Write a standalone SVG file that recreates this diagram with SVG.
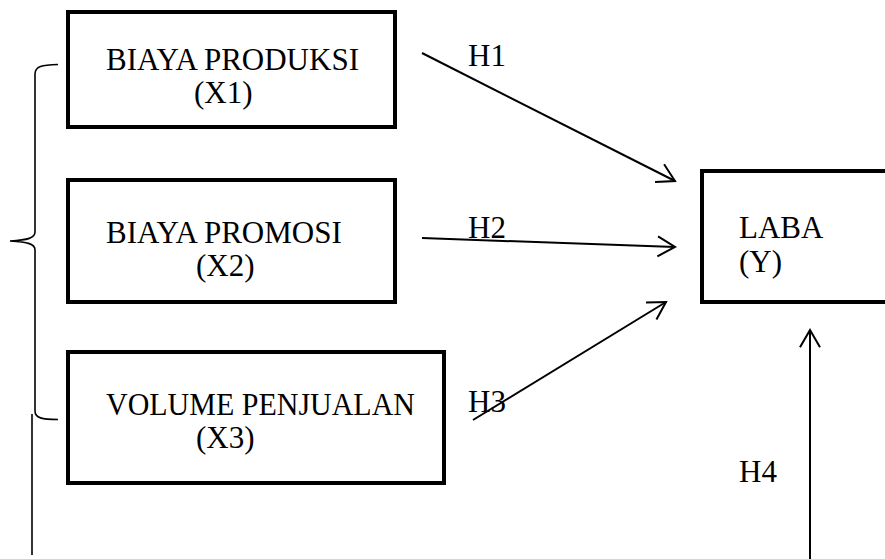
<svg xmlns="http://www.w3.org/2000/svg" width="885" height="559" viewBox="0 0 885 559">
<style>
.box{fill:#fff;stroke:#000;stroke-width:4}
.t{font-family:'Liberation Serif',serif;font-size:31px;fill:#000}
.conn{stroke:#000;stroke-width:2;fill:none}
.br{stroke:#000;stroke-width:1.6;fill:none}
</style>
<defs>
<marker id="arr" markerUnits="userSpaceOnUse" markerWidth="24" markerHeight="24" refX="20" refY="12" orient="auto" overflow="visible">
<path d="M2.7,2 L20,12 L2.7,22" fill="none" stroke="#000" stroke-width="2"/>
</marker>
</defs>
<rect width="885" height="559" fill="#fff"/>
<g id="x1">
<rect class="box" x="68" y="12" width="327" height="115"/>
<text class="t" x="106" y="70">BIAYA PRODUKSI</text>
<text class="t" x="194" y="103">(X1)</text>
</g>
<g id="x2">
<rect class="box" x="68" y="180" width="327" height="122"/>
<text class="t" x="106" y="243">BIAYA PROMOSI</text>
<text class="t" x="196" y="276">(X2)</text>
</g>
<g id="x3">
<rect class="box" x="68" y="352" width="376" height="131"/>
<text class="t" x="106" y="415" textLength="309" lengthAdjust="spacingAndGlyphs">VOLUME PENJUALAN</text>
<text class="t" x="196" y="448">(X3)</text>
</g>
<g id="y">
<rect class="box" x="702" y="171" width="200" height="131"/>
<text class="t" x="739" y="238">LABA</text>
<text class="t" x="739" y="272">(Y)</text>
</g>
<g id="brace">
<path class="br" d="M58,64.5 C42,65 35,66 35,74 L35,232 C35,238 28,240 10,241 C28,242 35,244 35,250 L35,411 C35,418 42,419.5 58,419.5"/>
<line class="br" x1="32" y1="414" x2="32" y2="555"/>
</g>
<g id="connectors">
<line class="conn" x1="422" y1="53" x2="675" y2="181" marker-end="url(#arr)"/>
<line class="conn" x1="422" y1="238" x2="675" y2="247" marker-end="url(#arr)"/>
<line class="conn" x1="473" y1="420" x2="666" y2="302" marker-end="url(#arr)"/>
<line class="conn" x1="810" y1="559" x2="810" y2="330" marker-end="url(#arr)"/>
<text class="t" x="468" y="66">H1</text>
<text class="t" x="468" y="238">H2</text>
<text class="t" x="468" y="412">H3</text>
<text class="t" x="739" y="482">H4</text>
</g>
</svg>
